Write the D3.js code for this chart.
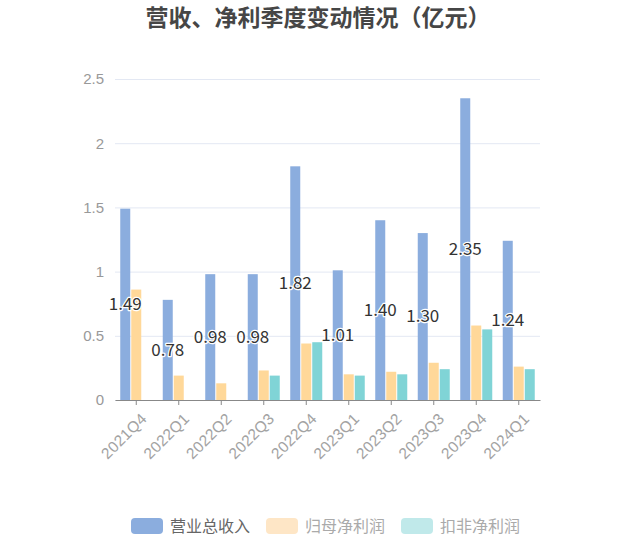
<!DOCTYPE html>
<html>
<head>
<meta charset="utf-8">
<script src="https://cdn.jsdelivr.net/npm/d3@7"></script>
<style>
    body { margin: 0; background: #fff; }
    svg { font-family: "Noto Sans CJK SC", "Noto Sans", sans-serif; }
</style>
</head>
<body>
<svg id="chart" width="619" height="545"></svg>
<script>

// data
var quarters = ["2021Q4", "2022Q1", "2022Q2", "2022Q3", "2022Q4",
                "2023Q1", "2023Q2", "2023Q3", "2023Q4", "2024Q1"];
var revenue = [1.49, 0.78, 0.98, 0.98, 1.82, 1.01, 1.40, 1.30, 2.35, 1.24];
var netProfit = [0.86, 0.19, 0.13, 0.23, 0.44, 0.20, 0.22, 0.29, 0.58, 0.26];
var deductedProfit = [null, null, null, 0.19, 0.45, 0.19, 0.20, 0.24, 0.55, 0.24];
var seriesNames = ["营业总收入", "归母净利润", "扣非净利润"];
var yTicks = [0, 0.5, 1, 1.5, 2, 2.5];


class BarChart {

    constructor(id) {

        this.svg = d3.select("#" + id);

        // parameters
        this.left = 115;
        this.right = 540;
        this.top = 79;
        this.bottom = 400;
        this.barWidth = 10;
        this.barGap = 1;
        this.color = ['#8badde', '#ffd899', '#80d4d6'];
        this.legendColor = ['#8badde', '#fee6c6', '#c0e9ea'];
        this.legendText = ['#666', '#aaa', '#aaa'];

    }

    setup() {
        this.makeScales();
        this.drawTitle();
        this.drawGrid();
        this.drawBars();
        this.drawAxis();
        this.drawLabels();
        this.drawLegend();
    }

    makeScales() {

        this.x = d3.scaleBand()
            .domain(quarters)
            .range([this.left, this.right]);

        this.y = d3.scaleLinear()
            .domain([0, 2.5])
            .range([this.bottom, this.top]);

        var w = this.barWidth + this.barGap;
        this.inner = d3.scaleBand()
            .domain([0, 1, 2])
            .range([-1.5 * w, 1.5 * w]);

    }

    drawTitle() {

        this.svg.append("text")
            .attr("x", 318)
            .attr("y", 26)
            .attr("text-anchor", "middle")
            .attr("font-size", "23px")
            .attr("font-weight", "bold")
            .attr("fill", "#464646")
            .text("营收、净利季度变动情况（亿元）");

    }

    drawGrid() {

        var grid = this.svg.append("g")
            .attr("transform", "translate(" + this.left + ",0)")
            .call(d3.axisLeft(this.y)
                .tickValues(yTicks)
                .tickSize(-(this.right - this.left))
                .tickPadding(11)
                .tickFormat(d => String(d)));

        grid.select(".domain").remove();
        grid.selectAll(".tick line").attr("stroke", "#e3e8f3");
        grid.selectAll(".tick text")
            .attr("fill", "#999")
            .attr("font-size", "15px");

    }

    drawBars() {

        var all = [revenue, netProfit, deductedProfit];

        for (var idx = 0; idx < all.length; idx += 1) {

            var values = all[idx];
            var inner = this.inner;
            var x = this.x;
            var y = this.y;
            var bw = this.barWidth;
            var k = idx;

            this.svg.append("g")
                .selectAll("rect")
                .data(quarters.map((q, i) => ({ q: q, v: values[i] })).filter(d => d.v !== null))
                .enter()
                .append("rect")
                .attr("x", d => x(d.q) + x.bandwidth() / 2 + inner(k) + 0.5)
                .attr("width", bw)
                .attr("y", d => y(d.v))
                .attr("height", d => y(0) - y(d.v))
                .attr("fill", this.color[idx]);

        }

    }

    drawAxis() {

        var axis = this.svg.append("g")
            .attr("transform", "translate(0," + this.bottom + ")")
            .call(d3.axisBottom(this.x).tickSize(5).tickSizeOuter(0));

        axis.select(".domain").attr("stroke", "#888");
        axis.selectAll(".tick line").attr("stroke", "#888");
        axis.selectAll(".tick text")
            .attr("fill", "#a3a3a3")
            .attr("font-size", "15.5px")
            .attr("letter-spacing", "0.3px")
            .attr("text-anchor", "end")
            .attr("dx", "0")
            .attr("dy", "0")
            .attr("transform", "translate(6,14) rotate(-45)");

    }

    drawLabels() {

        var x = this.x;
        var y = this.y;
        var inner = this.inner;
        var bw = this.barWidth;

        this.svg.append("g")
            .selectAll("text")
            .data(quarters.map((q, i) => ({ q: q, v: revenue[i] })))
            .enter()
            .append("text")
            .attr("x", d => x(d.q) + x.bandwidth() / 2 + inner(0) + 0.5 + bw / 2)
            .attr("y", d => (y(d.v) + y(0)) / 2)
            .attr("dy", "0.35em")
            .attr("text-anchor", "middle")
            .attr("font-size", "17px")
            .attr("fill", "#333")
            .attr("stroke", "#fff")
            .attr("stroke-width", 2.5)
            .attr("stroke-linejoin", "round")
            .attr("paint-order", "stroke")
            .text(d => d.v.toFixed(2));

    }

    drawLegend() {

        var xs = [131, 266, 401];

        for (var idx = 0; idx < seriesNames.length; idx += 1) {

            this.svg.append("rect")
                .attr("x", xs[idx])
                .attr("y", 518)
                .attr("width", 32)
                .attr("height", 16)
                .attr("rx", 4)
                .attr("fill", this.legendColor[idx]);

            this.svg.append("text")
                .attr("x", xs[idx] + 39)
                .attr("y", 526)
                .attr("dy", "0.35em")
                .attr("font-size", "16px")
                .attr("fill", this.legendText[idx])
                .text(seriesNames[idx]);

        }

    }

}

var chart = new BarChart("chart");
chart.setup();

</script>
</body>
</html>
